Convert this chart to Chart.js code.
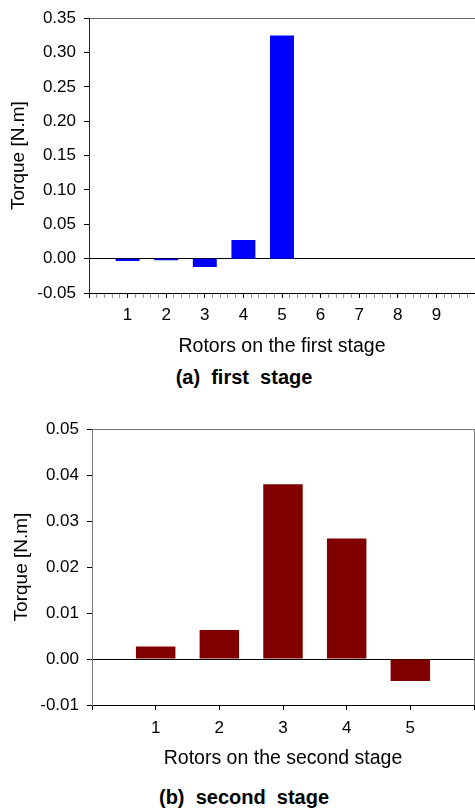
<!DOCTYPE html>
<html>
<head>
<meta charset="utf-8">
<script src="https://cdn.jsdelivr.net/npm/chart.js@4.4.1/dist/chart.umd.min.js"></script>
<style>
  body { margin: 0; background: #fff; width: 475px; height: 810px; position: relative; overflow: hidden;
         font-family: "Liberation Sans", Arial, sans-serif; }
  canvas { position: absolute; left: 0; }
  #chart1 { top: 0; }
  #chart2 { top: 400px; }
  .cap { position: absolute; left: 94px; width: 300px; text-align: center; white-space: pre;
         font-size: 20px; line-height: 22px; color: #000; font-weight: bold; }
</style>
</head>
<body>
<canvas id="chart1" width="475" height="363"></canvas>
<div class="cap" style="top:366px">(a)  first  stage</div>
<canvas id="chart2" width="475" height="380"></canvas>
<div class="cap" style="top:786px">(b)  second  stage</div>
<script>
// first stage
const stage1Rotors = [1, 2, 3, 4, 5, 6, 7, 8, 9];
const stage1Torque = [-0.0035, -0.0025, -0.012, 0.027, 0.325, 0, 0, 0, 0];
const stage1XRange = [0, 10];
const stage1YRange = [-0.05, 0.35];
const stage1YStep = 0.05;

// second stage
const stage2Rotors = [1, 2, 3, 4, 5];
const stage2Torque = [0.0027, 0.0063, 0.038, 0.0262, -0.0048];
const stage2XRange = [0, 6];
const stage2YRange = [-0.01, 0.05];
const stage2YStep = 0.01;

const FONT = '"Liberation Sans", Arial, sans-serif';
Chart.defaults.font.family = FONT;
Chart.defaults.color = '#000';

const isInt = v => Math.abs(v - Math.round(v)) < 1e-6;

function makeChart(id, rotors, torque, color, cfg) {
  const ctx = document.getElementById(id).getContext('2d');
  return new Chart(ctx, {
    type: 'bar',
    data: {
      datasets: [{
        data: rotors.map((r, i) => ({ x: r, y: torque[i] })),
        backgroundColor: color,
        borderWidth: 0,
        // bar ruler also counts the minor ticks, so widen by their count
        categoryPercentage: 1 / cfg.xMinor,
        barPercentage: 0.62
      }]
    },
    options: {
      responsive: false,
      animation: false,
      devicePixelRatio: 1,
      layout: { padding: { top: cfg.padTop, right: cfg.padRight, left: 0, bottom: 0 } },
      plugins: { legend: { display: false }, tooltip: { enabled: false } },
      scales: {
        x: {
          type: 'linear',
          offset: false,
          min: cfg.xRange[0],
          max: cfg.xRange[1],
          afterFit: s => {
            s.height = cfg.xHeight;
            // end labels are blank, no side room needed
            s.paddingLeft = 0;
            s.paddingRight = 0;
          },
          border: { color: '#000', width: 1 },
          grid: {
            offset: false,
            drawOnChartArea: true,
            tickLength: 5,
            color: c => (c.tick && c.tick.value === cfg.xRange[1]) ? cfg.frameColor : 'rgba(0,0,0,0)',
            tickColor: c => (c.tick && isInt(c.tick.value)) ? '#000' : '#999'
          },
          ticks: {
            stepSize: cfg.xMinor,
            autoSkip: false,
            maxRotation: 0,
            padding: cfg.xTickPad,
            font: { size: 17 },
            callback: v => (isInt(v) && rotors.includes(Math.round(v))) ? String(Math.round(v)) : ''
          },
          title: {
            display: true,
            text: cfg.xTitle,
            font: { size: 19.5 },
            padding: { top: 0, bottom: cfg.xTitlePadBottom }
          }
        },
        y: {
          min: cfg.yRange[0],
          max: cfg.yRange[1],
          afterFit: s => { s.width = cfg.yWidth; },
          border: { color: cfg.leftColor, width: 1 },
          grid: {
            tickLength: 5,
            color: c => {
              const v = c.tick ? c.tick.value : null;
              if (v === null) return 'rgba(0,0,0,0)';
              if (Math.abs(v) < 1e-9) return '#000';
              if (Math.abs(v - cfg.yRange[1]) < 1e-9) return cfg.frameColor;
              return 'rgba(0,0,0,0)';
            },
            tickColor: '#000'
          },
          ticks: {
            stepSize: cfg.yStep,
            padding: cfg.yTickPad,
            font: { size: 17 },
            callback: v => (Math.abs(v) < 1e-9 ? 0 : v).toFixed(2)
          },
          title: {
            display: true,
            text: 'Torque [N.m]',
            font: { size: 19 },
            padding: { top: cfg.yTitlePadTop, bottom: 0 }
          }
        }
      }
    }
  });
}

makeChart('chart1', stage1Rotors, stage1Torque, '#0000ff', {
  xRange: stage1XRange, yRange: stage1YRange, yStep: stage1YStep, xMinor: 0.2,
  padTop: 14, padRight: 0, xHeight: 70, yWidth: 89,
  xTickPad: 7, xTitlePadBottom: 5, yTickPad: 8, yTitlePadTop: 7,
  xTitle: 'Rotors on the first stage', frameColor: '#666', leftColor: '#222'
});

makeChart('chart2', stage2Rotors, stage2Torque, '#800000', {
  xRange: stage2XRange, yRange: stage2YRange, yStep: stage2YStep, xMinor: 1,
  padTop: 29, padRight: 1, xHeight: 75, yWidth: 92,
  xTickPad: 8, xTitlePadBottom: 10, yTickPad: 8, yTitlePadTop: 10,
  xTitle: 'Rotors on the second stage', frameColor: '#777', leftColor: '#777'
});
</script>
</body>
</html>
